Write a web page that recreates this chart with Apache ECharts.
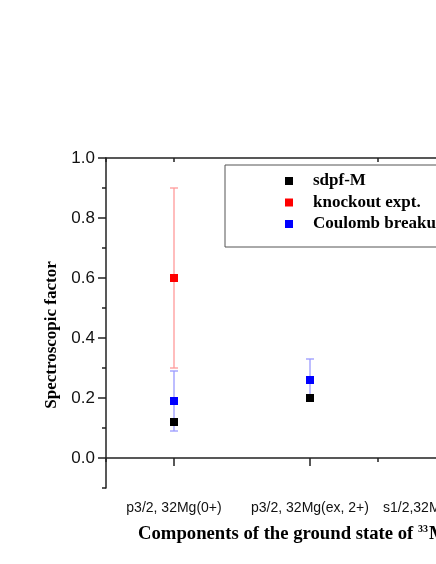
<!DOCTYPE html>
<html>
<head>
<meta charset="utf-8">
<script src="https://cdn.jsdelivr.net/npm/echarts@6/dist/echarts.min.js"></script>
<style>
html,body{margin:0;padding:0;background:#fff;overflow:hidden;}
#c{width:436px;height:564px;}
</style>
</head>
<body>
<div id="c"></div>
<script>
// ---- data ----
var categories = ['p3/2, 32Mg(0+)', 'p3/2, 32Mg(ex, 2+)', 's1/2,32Mg(ex, 1-,2-)'];
var sdpfM = [0.12, 0.20, null];
var knockout = [0.60, null, null];
var knockoutLow = [0.30, null, null];
var knockoutHigh = [0.90, null, null];
var coulomb = [0.19, 0.26, null];
var coulombLow = [0.09, 0.19, null];
var coulombHigh = [0.29, 0.33, null];
var yMajorTicks = [0, 0.2, 0.4, 0.6, 0.8, 1.0];
var yMinorTicks = [-0.1, 0.1, 0.3, 0.5, 0.7, 0.9];

function errData(lo, hi) {
  var out = [];
  for (var i = 0; i < categories.length; i++) {
    if (lo[i] != null && hi[i] != null) out.push([i, lo[i], hi[i]]);
  }
  return out;
}
function ptData(v) {
  var out = [];
  for (var i = 0; i < categories.length; i++) {
    if (v[i] != null) out.push([i, v[i]]);
  }
  return out;
}
function errSeries(name, lo, hi, color) {
  return {
    type: 'custom', name: name, xAxisIndex: 0, yAxisIndex: 0,
    data: errData(lo, hi), z: 1, silent: true,
    encode: {x: 0, y: [1, 2]},
    renderItem: function (params, api) {
      var x = api.value(0);
      var p1 = api.coord([x, api.value(1)]);
      var p2 = api.coord([x, api.value(2)]);
      var hw = 4;
      var st = {stroke: color, lineWidth: 1.3};
      return {type: 'group', children: [
        {type: 'line', shape: {x1: p1[0], y1: p1[1], x2: p2[0], y2: p2[1]}, style: st},
        {type: 'line', shape: {x1: p1[0] - hw, y1: p1[1], x2: p1[0] + hw, y2: p1[1]}, style: st},
        {type: 'line', shape: {x1: p2[0] - hw, y1: p2[1], x2: p2[0] + hw, y2: p2[1]}, style: st}
      ]};
    }
  };
}

var axisCol = '#222';
var chart = echarts.init(document.getElementById('c'), null, {renderer: 'canvas'});
chart.setOption({
  animation: false,
  backgroundColor: '#fff',
  grid: {left: 106, top: 158, width: 408, height: 330, containLabel: false, outerBoundsMode: 'none'},
  xAxis: [
    {type: 'category', data: categories, position: 'bottom', gridIndex: 0,
      axisLine: {show: true, lineStyle: {color: axisCol, width: 1.5}},
      axisTick: {show: true, alignWithLabel: true, length: 8, lineStyle: {color: axisCol, width: 1.5}},
      axisLabel: {fontFamily: 'Liberation Sans, Arial', fontSize: 14, color: '#111', margin: 13, interval: 0},
      splitLine: {show: false}},
    {type: 'category', data: categories, position: 'bottom', gridIndex: 0,
      axisLine: {show: false},
      axisTick: {show: true, alignWithLabel: false, length: 4, lineStyle: {color: axisCol, width: 1.5}},
      axisLabel: {show: false}, splitLine: {show: false}},
    {type: 'category', data: categories, position: 'top', gridIndex: 0,
      axisLine: {show: true, lineStyle: {color: axisCol, width: 1.5}},
      axisTick: {show: true, inside: true, alignWithLabel: false, length: 4, lineStyle: {color: axisCol, width: 1.5}},
      axisLabel: {show: false}, splitLine: {show: false}},
    {type: 'category', data: categories, position: 'top', gridIndex: 0,
      axisLine: {show: false},
      axisTick: {show: true, inside: true, alignWithLabel: true, length: 4, lineStyle: {color: axisCol, width: 1.5}},
      axisLabel: {show: false}, splitLine: {show: false}}
  ],
  yAxis: [
    {type: 'value', min: -0.1, max: 1.0, position: 'left', gridIndex: 0,
      axisLine: {show: true, lineStyle: {color: axisCol, width: 1.5}},
      axisTick: {show: true, length: 8, customValues: yMajorTicks, lineStyle: {color: axisCol, width: 1.5}},
      axisLabel: {customValues: yMajorTicks, fontFamily: 'Liberation Sans, Arial', fontSize: 17, color: '#111', margin: 11,
        formatter: function (v) { return v.toFixed(1); }},
      splitLine: {show: false}},
    {type: 'value', min: -0.1, max: 1.0, position: 'left', gridIndex: 0,
      axisLine: {show: false},
      axisTick: {show: true, length: 4, customValues: yMinorTicks, lineStyle: {color: axisCol, width: 1.5}},
      axisLabel: {show: false}, splitLine: {show: false}}
  ],
  legend: {
    orient: 'vertical', left: 225, top: 165,
    padding: [7.5, 200, 14.5, 60],
    itemGap: 4.5, itemWidth: 8, itemHeight: 8,
    borderColor: '#555', borderWidth: 1,
    icon: 'rect',
    textStyle: {fontFamily: 'Liberation Serif, Times New Roman', fontWeight: 'bold', fontSize: 17, lineHeight: 17, color: '#000', padding: [0, 0, 0, 15]},
    data: ['sdpf-M', 'knockout expt.', 'Coulomb breakup']
  },
  graphic: [
    {type: 'text', x: 52, y: 335, rotation: Math.PI / 2,
      style: {text: 'Spectroscopic factor', fontFamily: 'Liberation Serif, Times New Roman', fontWeight: 'bold', fontSize: 17, fill: '#000', align: 'center', verticalAlign: 'middle'}},
    {type: 'text', x: 138, y: 534,
      style: {text: 'Components of the ground state of {sup|33}Mg', fontFamily: 'Liberation Serif, Times New Roman', fontWeight: 'bold', fontSize: 18.7, fill: '#000', align: 'left', verticalAlign: 'middle',
        rich: {sup: {fontFamily: 'Liberation Serif, Times New Roman', fontWeight: 'bold', fontSize: 10, verticalAlign: 'top', padding: [0, 1, 10, 0]}}}}
  ],
  series: [
    errSeries('knockout err', knockoutLow, knockoutHigh, '#ff9a9a'),
    errSeries('coulomb err', coulombLow, coulombHigh, '#9a9aff'),
    {type: 'scatter', name: 'knockout expt.', data: ptData(knockout), symbol: 'rect', symbolSize: 8, itemStyle: {color: '#ff0000', opacity: 1}, z: 3},
    {type: 'scatter', name: 'Coulomb breakup', data: ptData(coulomb), symbol: 'rect', symbolSize: 8, itemStyle: {color: '#0000ff', opacity: 1}, z: 3},
    {type: 'scatter', name: 'sdpf-M', data: ptData(sdpfM), symbol: 'rect', symbolSize: 8, itemStyle: {color: '#000000', opacity: 1}, z: 4}
  ]
});
</script>
</body>
</html>
